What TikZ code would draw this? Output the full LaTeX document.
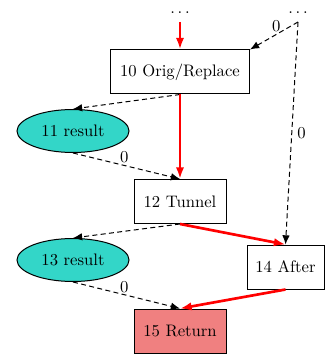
\documentclass[tikz,border=0pt]{standalone}
\usepackage{tikz}
\usepackage{xcolor}
\usetikzlibrary{shapes.geometric, arrows.meta, positioning}
\definecolor{CfgRed}{HTML}{FF0000}
\definecolor{CfgTurquoise}{HTML}{33D6C8}
\definecolor{CfgCoral}{HTML}{F08080}
\tikzset{
    % Node styles
    blockbox/.style={
        rectangle,
        draw=black,
        fill=white,
        line width=0.6pt,
        minimum height=26.4pt,
        text centered,
        font=\normalsize
    },
    resultnode/.style={
        ellipse,
        draw=black,
        fill=CfgTurquoise,
        line width=0.6pt,
        minimum width=67.2pt,
        minimum height=25.8pt,
        inner sep=0pt,
        font=\normalsize
    },
    dotsnode/.style={
        inner xsep=2pt,
        inner ysep=5pt,
        anchor=south
    },
    % Arrow styles
    flowarrow/.style={
        -{Latex[length=7pt,width=5pt]},
        line width=1.6pt,
        CfgRed
    },
    dashedarrow/.style={
        -{Latex[length=5.5pt,width=4.5pt]},
        line width=0.6pt,
        dash pattern=on 3pt off 2pt,
        black
    },
    edgelabel/.style={
        font=\normalsize,
        inner sep=1pt
    }
}
\begin{document}
\begin{tikzpicture}[x=0.6pt, y=-0.6pt]
    \useasboundingbox (0,0) rectangle (324,356);

    \node[dotsnode] (dotsl) at (180,22) {$\ldots$};
    \node[dotsnode] (dotsr) at (298,22) {$\ldots$};

    \node[blockbox, minimum width=83.4pt] (orig) at (180,72) {10 Orig/Replace};
    \node[resultnode] (resa) at (73,131) {11 result};
    \node[blockbox, minimum width=55.2pt] (tunnel) at (180,201.5) {12 Tunnel};
    \node[resultnode] (resb) at (73,260) {13 result};
    \node[blockbox, minimum width=46.2pt] (after) at (285.5,267) {14 After};
    \node[blockbox, minimum width=55.2pt, fill=CfgCoral] (ret) at (180,331) {15 Return};

    \draw[flowarrow] (dotsl.south) -- (orig.north);
    \draw[dashedarrow] (dotsr.south) -- (orig.north east) node[edgelabel, pos=0.45, above] {0};
    \draw[dashedarrow] (dotsr.south) -- (after.north) node[edgelabel, pos=0.5, right=2pt] {0};
    \draw[dashedarrow] (orig.south) -- (resa.north);
    \draw[flowarrow] (orig.south) -- (tunnel.north);
    \draw[dashedarrow] (resa.south) -- (tunnel.north) node[edgelabel, pos=0.48, above] {0};
    \draw[dashedarrow] (tunnel.south) -- (resb.north);
    \draw[flowarrow] (tunnel.south) -- (after.north);
    \draw[dashedarrow] (resb.south) -- (ret.north) node[edgelabel, pos=0.48, above] {0};
    \draw[flowarrow] (after.south) -- (ret.north);
\end{tikzpicture}
\end{document}
